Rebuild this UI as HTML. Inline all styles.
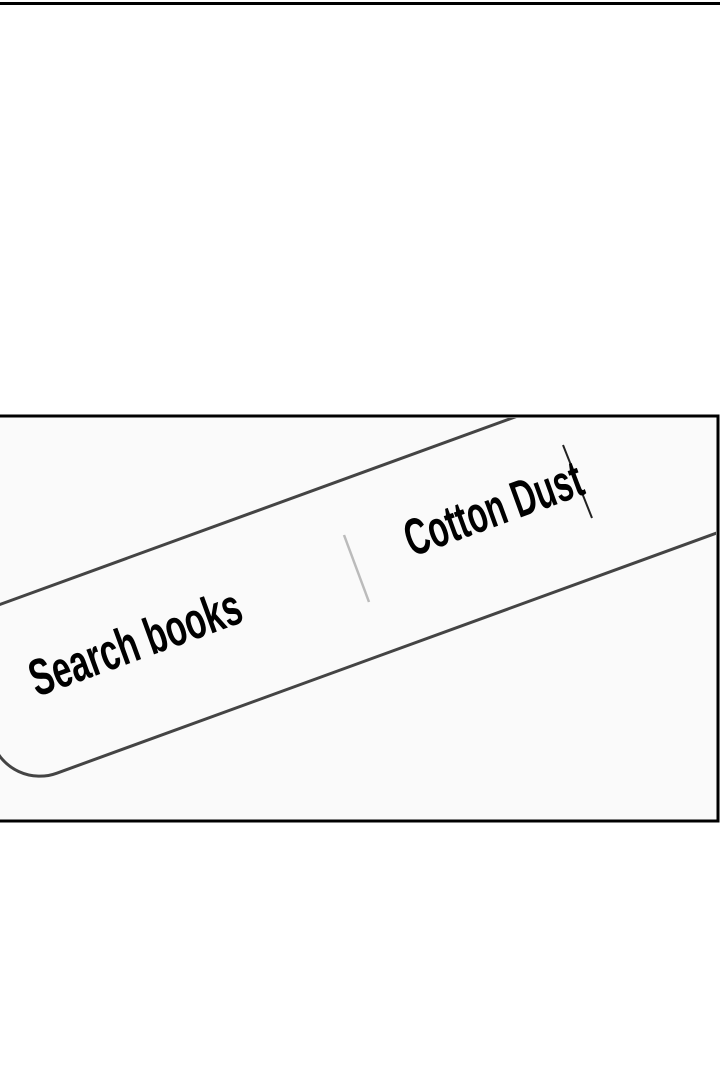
<!DOCTYPE html>
<html><head><meta charset="utf-8"><style>
html,body{margin:0;padding:0;background:#fff;width:720px;height:1080px;overflow:hidden}
</style></head><body>
<svg width="720" height="1080" viewBox="0 0 720 1080" xmlns="http://www.w3.org/2000/svg">
<defs><clipPath id="c"><rect x="0" y="418" width="716" height="401"/></clipPath></defs>
<rect x="0" y="0" width="720" height="1080" fill="#fff"/>
<line x1="0" y1="3.5" x2="720" y2="3.5" stroke="#000" stroke-width="3"/>
<rect x="-5" y="416" width="723" height="405" fill="#fafafa" stroke="#000" stroke-width="3"/>
<g clip-path="url(#c)">
<g transform="translate(-51,623) rotate(-20)">
<rect x="0" y="0" width="1100" height="178" rx="50" ry="50" fill="#fafafa" stroke="#444" stroke-width="3"/>
</g>
</g>
<line x1="344" y1="535" x2="369" y2="602" stroke="#bbb" stroke-width="2.5"/>
<line x1="563" y1="445" x2="592" y2="518" stroke="#222" stroke-width="2"/>
<text transform="translate(37,697) rotate(-20)" font-family="Liberation Sans Narrow, Liberation Sans, sans-serif" font-weight="bold" font-size="52" textLength="222" lengthAdjust="spacingAndGlyphs" fill="#000">Search books</text>
<text transform="translate(412,557) rotate(-20)" font-family="Liberation Sans Narrow, Liberation Sans, sans-serif" font-weight="bold" font-size="52" textLength="186" lengthAdjust="spacingAndGlyphs" fill="#000">Cotton Dust</text>
</svg>
</body></html>
